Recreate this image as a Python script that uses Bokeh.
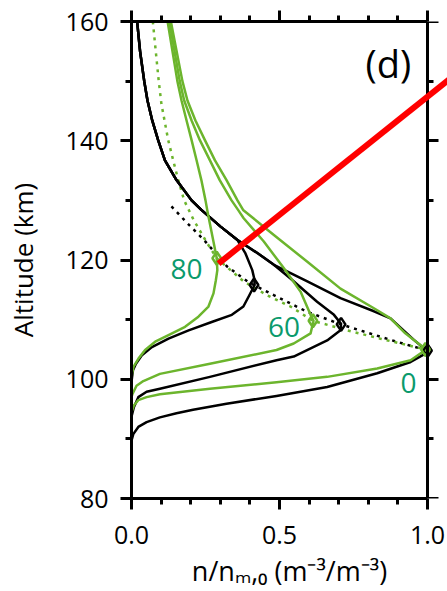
from bokeh.plotting import figure
from bokeh.models import Range1d, LinearAxis, FixedTicker, Label, Arrow, CustomJSTickFormatter, PrintfTickFormatter
from bokeh.embed import file_html
from bokeh.resources import INLINE

# ---------------- data ----------------
# model 1 (black) profiles: altitude (km) and n/n_m,0
black_0_alt = [160, 155, 150, 146.75, 143.4, 140.1, 136.7, 133.4, 130.0, 128.4, 125.6, 123.4, 121.0, 119.2, 116.4, 113.6, 111.4, 110.2, 106.6, 104.7,
               104.3, 102.9, 101.0, 98.7, 97.2, 95.9, 94.9, 94.3, 93.6, 92.8, 92.0, 90.8, 89.7, 80]
black_0_n = [0.019, 0.029, 0.043, 0.054, 0.070, 0.090, 0.113, 0.152, 0.203, 0.236, 0.301, 0.357, 0.43, 0.481, 0.594, 0.706, 0.819, 0.875, 0.954, 1.0,
             0.993, 0.943, 0.83, 0.661, 0.49, 0.321, 0.208, 0.152, 0.096, 0.051, 0.023, 0.006, 0.0, 0.0]

black_60_alt = [160, 155, 150, 146.75, 143.4, 140.1, 136.7, 133.4, 130.0, 128.4, 125.6, 123.4, 121.0, 119.2, 116.9, 113.0, 110.8, 109.3,
                108.2, 106.5, 103.8, 103.2, 100.4, 98.4, 97.9, 97.0, 95.3, 93.7, 80]
black_60_n = [0.019, 0.029, 0.043, 0.054, 0.070, 0.090, 0.113, 0.152, 0.203, 0.236, 0.301, 0.357, 0.43, 0.481, 0.537, 0.627, 0.684, 0.708,
              0.706, 0.661, 0.548, 0.49, 0.265, 0.096, 0.051, 0.023, 0.008, 0.0, 0.0]

black_80_alt = [160, 155, 150, 146.75, 143.4, 140.1, 136.7, 133.4, 130.0, 128.4, 125.6, 123.4, 121.1, 118.3, 116.8, 115.8, 113.8, 112.2,
                110.8, 109.6, 108.2, 106.8, 105.4, 104.0, 102.6, 101.5, 100.4, 99.5, 80]
black_80_n = [0.019, 0.029, 0.043, 0.054, 0.070, 0.090, 0.113, 0.152, 0.203, 0.236, 0.301, 0.357, 0.385, 0.408, 0.415, 0.416, 0.395, 0.378,
              0.339, 0.271, 0.193, 0.125, 0.069, 0.035, 0.015, 0.005, 0.002, 0.0, 0.0]

# model 2 (green) profiles
green_0_alt = [160, 150, 146.75, 143.4, 140.1, 136.7, 133.4, 130.0, 128.4, 124.2, 119.7, 115.2, 111.9, 110.2, 107.7, 105.0,
               104.9, 103.2, 101.8, 100.4, 99.5, 98.4, 97.5, 97.0, 96.5, 95.6, 94.5, 80]
green_0_n = [0.133, 0.172, 0.189, 0.216, 0.248, 0.282, 0.321, 0.358, 0.377, 0.481, 0.594, 0.706, 0.819, 0.875, 0.925, 0.995,
             0.993, 0.943, 0.83, 0.661, 0.49, 0.265, 0.096, 0.051, 0.023, 0.008, 0.0, 0.0]

green_60_alt = [160, 150, 146.75, 143.4, 140.1, 136.7, 133.4, 130.0, 128.4, 127.0, 123.1, 118.6, 114.7, 110.8, 109.8,
                107.7, 106.0, 104.9, 102.6, 100.9, 99.7, 98.9, 97.5, 97.0, 80]
green_60_n = [0.128, 0.163, 0.178, 0.203, 0.231, 0.265, 0.298, 0.338, 0.36, 0.379, 0.447, 0.515, 0.571, 0.605, 0.615,
              0.605, 0.548, 0.49, 0.265, 0.096, 0.04, 0.017, 0.003, 0.0, 0.0]

green_80_alt = [160, 150, 146.75, 143.4, 140.1, 136.7, 133.4, 130.0, 127.8, 122.8, 120.3, 118.3, 116.6, 114.4, 112.2, 110.5,
                108.8, 107.4, 106.3, 104.9, 103.5, 102.1, 101.0, 99.9, 80]
green_80_n = [0.122, 0.155, 0.169, 0.186, 0.203, 0.220, 0.236, 0.25, 0.258, 0.278, 0.288, 0.29, 0.285, 0.277, 0.26, 0.226,
              0.181, 0.125, 0.08, 0.046, 0.024, 0.007, 0.002, 0.0, 0.0]

# loci of the peaks (dotted)
black_peak_locus_alt = [129.0, 126.2, 123.4, 120.9, 118.9, 116.1, 115.8, 114.1, 111.3, 109.2, 108.0, 106.6, 104.8]
black_peak_locus_n = [0.135, 0.188, 0.244, 0.288, 0.323, 0.40, 0.414, 0.481, 0.594, 0.708, 0.785, 0.875, 1.0]
green_peak_locus_alt = [160, 150, 146.2, 140.1, 136.7, 133.4, 130.0, 126.7, 122.8, 120.3, 116.4, 114.1, 112.2, 109.8, 108.2, 106.8, 105.0]
green_peak_locus_n = [0.072, 0.092, 0.101, 0.124, 0.141, 0.158, 0.178, 0.21, 0.256, 0.288, 0.379, 0.458, 0.537, 0.613, 0.729, 0.841, 0.993]

# peak markers
black_peak_alt = [115.8, 109.2, 104.8]
black_peak_n = [0.414, 0.708, 1.0]
green_peak_alt = [120.3, 109.8, 105.0]
green_peak_n = [0.288, 0.613, 0.993]

# zenith-angle labels
zenith_labels = ["80", "60", "0"]

# red pointer line
red_line_n = [0.294, 1.2]
red_line_alt = [119.4, 155.3]

# axes
x_major = [0.0, 0.5, 1.0]
x_minor = [0.1, 0.2, 0.3, 0.4, 0.6, 0.7, 0.8, 0.9]
y_major = [80, 100, 120, 140, 160]
y_minor = [90, 110, 130, 150]

# ---------------- figure ----------------
FONT = "Open Sans"
GREEN = "#6cb52d"
TEAL = "#0a9a6c"

# the frame runs to the right edge of the page so that the red pointer can leave the box;
# the box itself is closed at x = 1.0 by an axis with a fixed location
p = figure(width=447, height=591, output_backend="svg", toolbar_location=None,
           x_range=Range1d(0, 1.0 + 20 / 296), y_range=Range1d(80, 160),
           min_border_left=131, min_border_right=0, min_border_top=21, min_border_bottom=93)
p.outline_line_color = None
p.grid.visible = False
p.background_fill_color = "white"
p.border_fill_color = "white"

xt = FixedTicker(ticks=x_major, minor_ticks=x_minor)
yt = FixedTicker(ticks=y_major, minor_ticks=y_minor)

def style(ax):
    ax.axis_line_width = 3
    ax.axis_line_color = "black"
    ax.major_tick_line_width = 3
    ax.minor_tick_line_width = 3
    ax.major_tick_out = 11
    ax.major_tick_in = 0
    ax.minor_tick_out = 6
    ax.minor_tick_in = 0
    ax.major_label_text_font = FONT
    ax.major_label_text_font_size = "25px"
    ax.major_label_text_color = "black"
    ax.axis_label_text_font = FONT
    ax.axis_label_text_font_style = "normal"
    ax.axis_label_text_font_size = "26px"
    ax.axis_label_text_color = "black"

xa = p.xaxis[0]
xa.ticker = xt
xa.bounds = (0, 1)
xa.formatter = PrintfTickFormatter(format="%.1f")
style(xa)
xa.major_label_standoff = 16
xa.axis_label = "n/nₘ,₀ (m⁻³/m⁻³)"
xa.axis_label_text_font_size = "27px"
xa.axis_label_standoff = 5

ya = p.yaxis[0]
ya.ticker = yt
style(ya)
ya.major_label_standoff = 12
ya.axis_label = "Altitude (km)"
ya.axis_label_standoff = 22

blank = CustomJSTickFormatter(code="return ''")
top = LinearAxis(ticker=xt, formatter=blank, bounds=(0, 1))
style(top)
top.major_label_text_font_size = "1px"
top.major_label_standoff = 0
p.add_layout(top, "above")

# right-hand side of the box at x = 1.0, ticks pointing right (outwards)
rspine = LinearAxis(ticker=yt, formatter=blank, fixed_location=1.0)
style(rspine)
rspine.major_tick_out = 0
rspine.major_tick_in = 11
rspine.minor_tick_out = 0
rspine.minor_tick_in = 6
rspine.major_label_text_font_size = "1px"
rspine.major_label_standoff = 0
p.add_layout(rspine, "left")

# dotted peak loci
p.line(black_peak_locus_n, black_peak_locus_alt, line_color="black", line_width=2.5, line_dash="3 5")
p.line(green_peak_locus_n, green_peak_locus_alt, line_color=GREEN, line_width=2.5, line_dash="3 5")

# profiles
for xs, ys in [(black_0_n, black_0_alt), (black_60_n, black_60_alt), (black_80_n, black_80_alt)]:
    p.line(xs, ys, line_color="black", line_width=2.5, line_join="round")
for xs, ys in [(green_0_n, green_0_alt), (green_60_n, green_60_alt), (green_80_n, green_80_alt)]:
    p.line(xs, ys, line_color=GREEN, line_width=2.5, line_join="round")

# peak markers
p.scatter(black_peak_n, black_peak_alt, marker="diamond", size=13, fill_color=None, line_color="black", line_width=2.5)
p.scatter(green_peak_n, green_peak_alt, marker="diamond", size=13, fill_color=None, line_color=GREEN, line_width=2.5)

# red pointer
p.add_layout(Arrow(end=None, x_start=red_line_n[0], y_start=red_line_alt[0],
                   x_end=red_line_n[1], y_end=red_line_alt[1],
                   line_color="#ff0000", line_width=6))

# labels
label_pos = [(0.186, 118.5), (0.515, 108.7), (0.936, 99.4)]
for txt, (lx, ly) in zip(zenith_labels, label_pos):
    p.add_layout(Label(x=lx, y=ly, text=txt, text_font=FONT, text_font_size="28px",
                       text_color=TEAL, text_align="center", text_baseline="middle"))

p.add_layout(Label(x=0.868, y=153.1, text="(d)", text_font=FONT, text_font_size="38px",
                   text_color="black", text_align="center", text_baseline="middle"))

open("out.html", "w").write(file_html(p, INLINE))
